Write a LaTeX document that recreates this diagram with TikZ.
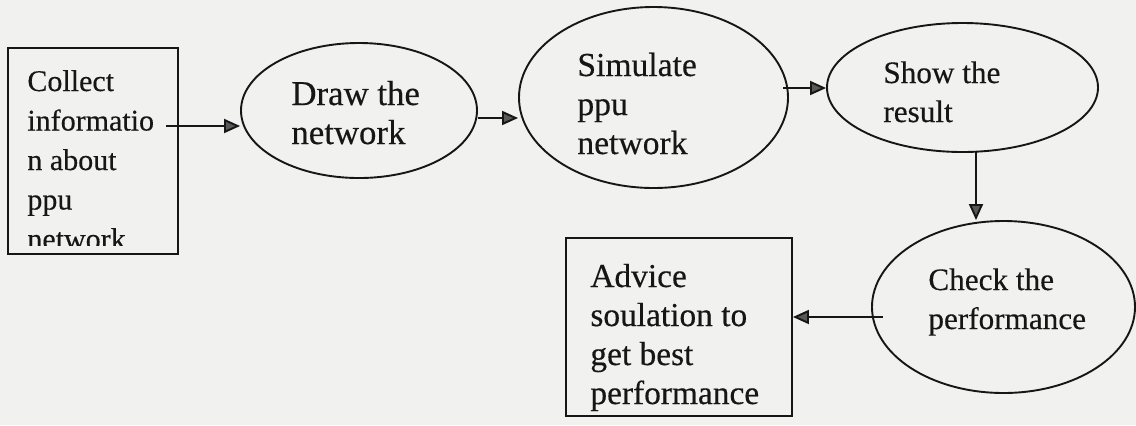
\documentclass[tikz,border=0pt]{standalone}
\usepackage{fontspec}
\setmainfont{Liberation Serif}[FakeBold=0.35]
\usetikzlibrary{arrows.meta,shapes.geometric}
\definecolor{paper}{RGB}{241,241,240}
\definecolor{ink}{RGB}{22,22,22}
\definecolor{tipgray}{RGB}{88,88,88}
\tikzset{
  outline/.style={draw=ink, line width=0.95pt, inner sep=0pt},
  stepbox/.style={outline, rectangle},
  bubble/.style={outline, ellipse},
  words/.style={anchor=base west, inner sep=0pt, text=ink,
                font=\fontsize{#1}{19.5pt}\selectfont},
  words/.default=16.5pt,
  flow/.style={draw=ink, line width=0.95pt,
               -{Triangle[length=8pt,width=7pt,fill=tipgray]}}
}
\begin{document}
\begin{tikzpicture}[x=0.5pt,y=-0.5pt]
  % page
  \fill[paper] (0,0) rectangle (1136,425);
  \useasboundingbox (0,0) rectangle (1136,425);

  % shapes
  \node[stepbox, minimum width=85pt,  minimum height=103pt]  (b1) at (93,151)      {};
  \node[bubble,  minimum width=118pt, minimum height=67.5pt] (o1) at (359,110.5)   {};
  \node[bubble,  minimum width=134.5pt, minimum height=90.5pt] (o2) at (653.5,97.5) {};
  \node[bubble,  minimum width=135.5pt, minimum height=64.5pt] (o3) at (962.5,87.5) {};
  \node[bubble,  minimum width=131.5pt, minimum height=86pt] (o4) at (1003.5,307)  {};
  \node[stepbox, minimum width=113pt, minimum height=89pt]   (b2) at (679,327)     {};

  % texts (the first box cuts its last line off)
  \begin{scope}
    \clip (8,48) rectangle (178,245);
    \node[words=15pt, font=\fontsize{15pt}{19.75pt}\selectfont] (t1) at (27,91)
      {\vtop{\hbox{Collect}\hbox{informatio}\hbox{n about}\hbox{ppu}\hbox{network}}};
  \end{scope}
  \node[words=17.4pt] (t2) at (291,105) {\vtop{\hbox{Draw the}\hbox{network}}};
  \node[words=16.8pt] (t3) at (577,76)  {\vtop{\hbox{Simulate}\hbox{ppu}\hbox{network}}};
  \node[words=15.6pt] (t4) at (883,83)  {\vtop{\hbox{Show the}\hbox{result}}};
  \node[words=15.6pt] (t5) at (928,290) {\vtop{\hbox{Check the}\hbox{performance}}};
  \node[words=16.7pt] (t6) at (590,287)
    {\vtop{\hbox{Advice}\hbox{soulation to}\hbox{get best}\hbox{performance}}};

  % connectors
  \coordinate (a1) at (166,126);
  \coordinate (a2) at (478,118);
  \coordinate (a3) at (783,88);
  \coordinate (a4) at (976,151);
  \coordinate (a5) at (883,317);
  \draw[flow] (a1) -- (a1 -| o1.west);
  \draw[flow] (a2) -- (a2 -| o2.west);
  \draw[flow] (a3) -- (a3 -| o3.west);
  \draw[flow] (a4) -- (a4 |- o4.north);
  \draw[flow] (a5) -- (a5 -| b2.east);
\end{tikzpicture}
\end{document}
